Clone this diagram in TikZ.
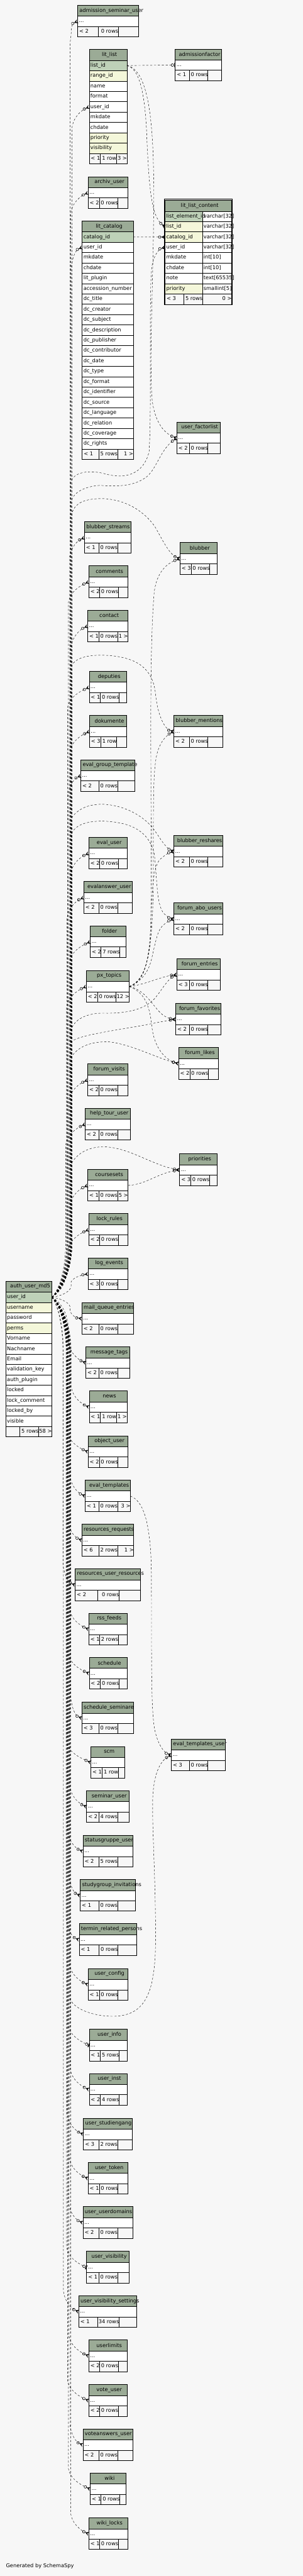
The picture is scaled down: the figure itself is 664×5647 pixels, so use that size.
\documentclass[tikz,border=0pt]{standalone}
\usepackage{fontspec}
\setmainfont{DejaVu Sans}
\usetikzlibrary{arrows.meta}
\definecolor{bg}{HTML}{F7F7F7}
\definecolor{hdc}{HTML}{9BAB96}
\definecolor{pk}{HTML}{BED1B8}
\definecolor{ix}{HTML}{F4F7DA}
\newlength\twd
\newcommand\hfit[2]{\settowidth\twd{#2}\ifdim\twd>\dimexpr#1-8pt\relax\makebox[#1][l]{\hspace{4pt}#2}\else\makebox[#1][c]{\hspace{6pt}#2}\fi}
\newcommand\sv{\vphantom{Agy\_}}
\newcommand\ddd{...}
\def\parsex#1,#2,#3,#4\relax{\def\xA{#1}\def\xa{#2}\def\xb{#3}\def\xB{#4}}
\def\parsef#1/#2/#3\relax{\def\fA{#1}\def\fB{#2}\def\fC{#3}}
\newcommand\tbl[6]{%
  \parsex#2\relax\parsef#6\relax
  \pgfmathsetmacro\tw{\xB-\xA}%
  \node[hd, minimum width=\tw pt] (#1) at (\xA,#3) {\hfit{\tw pt}{#4}};%
  \foreach \rt/\rc/\rn [count=\ri] in {#5} {%
    \pgfmathsetmacro\ry{#3+24+22.67*(\ri-1)}%
    \node[rw, fill=\rc, minimum width=\tw pt] (#1-\rn) at (\xA,\ry) {\makebox[\tw pt][l]{\hspace{2.8pt}\sv\rt}};%
    \pgfmathsetmacro\fy{#3+24+22.67*\ri}\xdef\footy{\fy}%
  }%
  \pgfmathsetmacro\wA{\xa-\xA}\pgfmathsetmacro\wB{\xb-\xa}\pgfmathsetmacro\wC{\xB-\xb}%
  \node[ft, minimum width=\wA pt] (#1-f1) at (\xA,\footy) {\makebox[\wA pt][l]{\hspace{3.5pt}\sv\fA}};%
  \node[ft, minimum width=\wB pt] (#1-f2) at (\xa,\footy) {\makebox[\wB pt][r]{\sv\fB}};%
  \node[ft, minimum width=\wC pt] (#1-f3) at (\xb,\footy) {\makebox[\wC pt][r]{\sv\fC}};%
}
\newcommand\stbl[5]{\tbl{#1}{#2}{#3}{#4}{\ddd/white/r}{#5}}
\newcommand\fan[2]{%
  \pgfmathsetmacro\dd{2844-#1}%
  \pgfmathsetmacro\ss{(\dd>0)*2-1}%
  \pgfmathsetmacro\aa{abs(\dd)}%
  \pgfmathsetmacro\kk{min(120,\aa*0.5)}%
  \pgfmathsetmacro\py{2844-(\ss)*\kk}%
  \pgfmathsetmacro\cxa{113.7+0.6*(#2-113.7)}%
  \pgfmathsetmacro\cya{2844-(\ss)*\kk*0.15}%
  \pgfmathsetmacro\cyb{2844-(\ss)*\kk*0.55}%
}
\newcommand\aedge[4][rel]{%
  \fan{#3}{#4}%
  \pgfmathsetmacro\my{#3+(\ss)*min(45,\aa/3)}%
  \pgfmathsetmacro\cyc{#3+(\ss)*min(20,\aa/6)}%
  \pgfmathsetmacro\cyd{(\ss)*min(7,\aa/20)}%
  \draw[#1] (auth-uid.east) .. controls (\cxa,\cya) and (#4,\cyb) .. (#4,\py) -- (#4,\my) .. controls (#4+4,\cyc) and ([shift={(-16,\cyd)}]#2.west) .. (#2.west);%
}
\newcommand\redge[3]{\fan{#1}{#2}\draw[rel] (auth-uid.east) .. controls (\cxa,\cya) and (#2,\cyb) .. (#2,\py) -- (#2,#1) #3;}
\tikzset{
  hd/.style={draw, line width=0.9pt, fill=hdc, inner sep=0pt, outer sep=0pt, minimum height=24pt, anchor=north west},
  rw/.style={draw, line width=0.9pt, inner sep=0pt, outer sep=0pt, minimum height=22.67pt, anchor=north west},
  ft/.style={rw, fill=bg},
  rel/.style={line width=0.6pt, dash pattern=on 4.5pt off 4pt, -{Circle[open,length=6.5pt,width=6.5pt,line width=0.8pt,sep=0.5pt] Stealth[reversed,length=8pt,width=9pt,inset=3.5pt]}},
  rel1/.style={line width=0.6pt, dash pattern=on 4.5pt off 4pt, -{Circle[open,length=6.5pt,width=6.5pt,line width=0.8pt,sep=1pt] Rectangle[length=2pt,width=9pt]}}
}
\begin{document}
\begin{tikzpicture}[x=1pt, y=-1pt, font=\fontsize{11.4}{13.5}\selectfont]
\useasboundingbox (0,0) rectangle (664,5647);
\fill[bg] (0,0) rectangle (664,5647);
% ---------- tables ----------
\stbl{asu}{170.3,215.3,259.3,303.3}{11.3}{admission\_seminar\_user}{< 2/0 rows/}
\tbl{litlist}{195.7,220,255.3,278.3}{108.3}{lit\_list}{list\_id/pk/listid, range\_id/ix/rangeid, name/white/name, format/white/format, user\_id/white/uid, mkdate/white/mk, chdate/white/ch, priority/ix/prio, visibility/ix/vis}{< 1/1 row/3 >}
\stbl{admf}{384.3,415,456,485.3}{107.3}{admissionfactor}{< 1/0 rows/}
\stbl{archiv}{193.3,217.7,258.7,280.7}{387.3}{archiv\_user}{< 2/0 rows/}
% lit_list_content (detailed)
\draw[line width=2.3pt] (360.5,436.3) rectangle (509.5,668);
\node[hd, minimum width=146pt] (llc) at (362,439) {\hfit{146pt}{lit\_list\_content}};
\foreach \na/\ty/\cc/\nn [count=\i] in {list\_element\_id/varchar[32]/pk/leid, list\_id/varchar[32]/ix/listid, catalog\_id/varchar[32]/ix/catid, user\_id/varchar[32]/white/uid, mkdate/int[10]/white/mk, chdate/int[10]/white/ch, note/text[65535]/white/note, priority/smallint[5]/ix/prio} {
  \pgfmathsetmacro\ry{439+24+22.67*(\i-1)}
  \node[rw, fill=white, minimum width=64pt] (llc-\nn-t) at (444,\ry) {\makebox[64pt][l]{\hspace{2.5pt}\sv\ty}};
  \node[rw, fill=\cc, minimum width=82pt] (llc-\nn) at (362,\ry) {\makebox[82pt][l]{\hspace{2.8pt}\sv\na}};
}
\node[ft, minimum width=41.3pt] (llc-f1) at (362,644.4) {\makebox[41.3pt][l]{\hspace{3.5pt}\sv< 3}};
\node[ft, minimum width=41pt] (llc-f2) at (403.3,644.4) {\makebox[41pt][r]{\sv5 rows}};
\node[ft, minimum width=63.7pt] (llc-f3) at (444.3,644.4) {\makebox[63.7pt][r]{\sv0 >}};
\tbl{litcat}{180.3,216.7,257.7,292.3}{484.3}{lit\_catalog}{catalog\_id/pk/catid, user\_id/white/uid, mkdate/white/mk, chdate/white/ch, lit\_plugin/white/plugin, accession\_number/white/acc, dc\_title/white/title, dc\_creator/white/creator, dc\_subject/white/subject, dc\_description/white/desc, dc\_publisher/white/pub, dc\_contributor/white/contrib, dc\_date/white/date, dc\_type/white/type, dc\_format/white/format, dc\_identifier/white/ident, dc\_source/white/source, dc\_language/white/lang, dc\_relation/white/rel, dc\_coverage/white/cov, dc\_rights/white/rights}{< 1/5 rows/1 >}
\stbl{ufl}{387.7,415,456,482.3}{925}{user\_factorlist}{< 2/0 rows/}
\stbl{bstreams}{185.3,216.7,257.7,287.7}{1143.3}{blubber\_streams}{< 1/0 rows/}
\stbl{blubber}{394.7,419,460,475.7}{1189.3}{blubber}{< 3/0 rows/}
\stbl{comments}{194.7,218.3,259.3,279.7}{1240.3}{comments}{< 2/0 rows/}
\stbl{contact}{192.3,216.7,257.7,280.7}{1337.3}{contact}{< 1/0 rows/1 >}
\stbl{deputies}{195.7,220,261,277.3}{1471.3}{deputies}{< 1/0 rows/}
\stbl{dokumente}{196.3,220.7,256,277.3}{1568.3}{dokumente}{< 3/1 row/}
\stbl{egt}{177.3,216.7,257.7,295.7}{1665.3}{eval\_group\_template}{< 2/0 rows/}
\stbl{bment}{381.3,415,456,488.3}{1568.3}{blubber\_mentions}{< 2/0 rows/}
\stbl{evaluser}{194.7,218.3,259.3,278.3}{1835.3}{eval\_user}{< 2/0 rows/}
\stbl{bresh}{381.3,415,456,488.3}{1831.3}{blubber\_reshares}{< 2/0 rows/}
\stbl{eau}{183.7,216.7,257.7,289.3}{1932.3}{evalanswer\_user}{< 2/0 rows/}
\stbl{fabo}{381.3,415,456,488.3}{1979.3}{forum\_abo\_users}{< 2/0 rows/}
\stbl{folder}{198,221.7,262.7,276.7}{2029.3}{folder}{< 2/7 rows/}
\stbl{fentries}{387.7,415,456,482.3}{2101.3}{forum\_entries}{< 3/0 rows/}
\stbl{pxt}{189.3,213.7,254.7,283.7}{2127.3}{px\_topics}{< 2/0 rows/12 >}
\stbl{ffav}{385.3,415,456,484.3}{2199.3}{forum\_favorites}{< 2/0 rows/}
\stbl{flikes}{391.7,416.3,457,479}{2296.3}{forum\_likes}{< 2/0 rows/}
\stbl{fvisits}{192.3,216.7,257.7,280.7}{2332.3}{forum\_visits}{< 2/0 rows/}
\stbl{htu}{187,216.7,257.7,286}{2429.3}{help\_tour\_user}{< 2/0 rows/}
\stbl{prio}{394,418.3,459.3,476}{2529.3}{priorities}{< 3/0 rows/}
\stbl{csets}{192.3,216.7,257.7,280.7}{2563.3}{coursesets}{< 1/0 rows/5 >}
\stbl{lockr}{194.7,218.3,259.3,279.7}{2660.3}{lock\_rules}{< 2/0 rows/}
\stbl{loge}{193.3,217.7,258.7,279.7}{2757.3}{log\_events}{< 3/0 rows/}
\tbl{auth}{12.7,43.7,84.7,113.7}{2808.3}{auth\_user\_md5}{user\_id/pk/uid, username/ix/uname, password/white/pw, perms/ix/perms, Vorname/white/vn, Nachname/white/nn, Email/white/email, validation\_key/white/vk, auth\_plugin/white/ap, locked/white/locked, lock\_comment/white/lc, locked\_by/white/lb, visible/white/vis}{/5 rows/58 >}
\stbl{mqe}{179.7,216.7,257.7,293.3}{2855.3}{mail\_queue\_entries}{< 2/0 rows/}
\stbl{mtags}{188.3,216.7,257.7,284.3}{2952.3}{message\_tags}{< 2/0 rows/}
\stbl{news}{195.7,220,255.3,278.3}{3049.3}{news}{< 1/1 row/1 >}
\stbl{obju}{193.3,217.7,258.7,280.7}{3147.3}{object\_user}{< 2/0 rows/}
\stbl{evtpl}{187,216.7,257.7,286}{3244.3}{eval\_templates}{< 1/0 rows/3 >}
\stbl{resreq}{179.7,216.7,257.7,293.3}{3341.3}{resources\_requests}{< 6/2 rows/1 >}
\stbl{resur}{165,213.7,261,308.3}{3439.3}{resources\_user\_resources}{< 2/0 rows/}
\stbl{rss}{194.7,218.3,259.3,278.3}{3536.3}{rss\_feeds}{< 1/2 rows/}
\stbl{sched}{195.7,220,261,278.3}{3633.3}{schedule}{< 2/0 rows/}
\stbl{schedsem}{179.7,216.7,257.7,293.3}{3731.3}{schedule\_seminare}{< 3/0 rows/}
\stbl{evtu}{375.7,415,456,494}{3812}{eval\_templates\_user}{< 3/0 rows/}
\stbl{scm}{199.3,224,259.3,273.7}{3828.3}{scm}{< 1/1 row/}
\stbl{semu}{190,216.7,257.7,283}{3925.3}{seminar\_user}{< 2/4 rows/}
\stbl{sgu}{182,216.7,257.7,290.7}{4023.3}{statusgruppe\_user}{< 2/5 rows/}
\stbl{sgi}{176,216.7,257.7,297}{4120}{studygroup\_invitations}{< 1/0 rows/}
\stbl{trp}{173.7,216.7,258.3,300.3}{4217}{termin\_related\_persons}{< 1/0 rows/}
\stbl{ucfg}{193.3,217.7,258.7,280.7}{4315.3}{user\_config}{< 1/0 rows/}
\stbl{uinfo}{195.7,220,261,278.3}{4448.3}{user\_info}{< 1/5 rows/}
\stbl{uinst}{195.7,220,261,278.3}{4545.3}{user\_inst}{< 2/4 rows/}
\stbl{ustud}{183,216.7,257.7,290}{4643.3}{user\_studiengang}{< 3/2 rows/}
\stbl{utok}{193.3,217.7,258.7,280}{4740.3}{user\_token}{< 1/0 rows/}
\stbl{uud}{182,216.7,257.7,290.7}{4837.3}{user\_userdomains}{< 2/0 rows/}
\stbl{uvis}{190,216.7,257.7,283}{4935.3}{user\_visibility}{< 1/0 rows/}
\stbl{uvs}{172.7,213.7,261,300.3}{5032.3}{user\_visibility\_settings}{< 1/34 rows/}
\stbl{ulim}{194.7,218.3,259.3,278.3}{5129.3}{userlimits}{< 2/0 rows/}
\stbl{voteu}{194.7,218.3,259.3,278.3}{5227.3}{vote\_user}{< 2/0 rows/}
\stbl{vau}{182,216.7,257.7,290.7}{5324.3}{voteanswers\_user}{< 2/0 rows/}
\stbl{wiki}{198,221.7,262.7,276.7}{5421}{wiki}{< 1/0 rows/}
\stbl{wikil}{194.7,218.3,259.3,279.7}{5519.3}{wiki\_locks}{< 1/0 rows/}
\node[anchor=base west, inner sep=0pt] (gen) at (13,5629) {Generated by SchemaSpy};
% ---------- edges from auth_user_md5.user_id to left column ----------
\aedge{asu-r}{46.6}{154}
\aedge{litlist-uid}{234.3}{158}
\aedge{archiv-r}{422.6}{155}
\aedge{litcat-uid}{542.3}{156}
\aedge{bstreams-r}{1178.6}{152}
\aedge{comments-r}{1275.6}{150}
\aedge{contact-r}{1372.6}{156}
\aedge{deputies-r}{1506.6}{148}
\aedge{dokumente-r}{1603.6}{153}
\aedge{egt-r}{1700.6}{149}
\aedge{evaluser-r}{1870.6}{155}
\aedge{eau-r}{1967.6}{147}
\aedge{folder-r}{2064.6}{152}
\aedge{pxt-r}{2162.6}{146}
\aedge{fvisits-r}{2367.6}{151}
\aedge{htu-r}{2464.6}{144}
\aedge{csets-r}{2598.6}{153}
\aedge{lockr-r}{2695.6}{149}
\aedge{loge-r}{2792.6}{156}
\aedge{mqe-r}{2890.6}{154}
\aedge{mtags-r}{2987.6}{150}
\aedge{news-r}{3084.6}{156}
\aedge{obju-r}{3182.6}{147}
\aedge{evtpl-r}{3279.6}{153}
\aedge{resreq-r}{3376.6}{148}
\aedge{resur-r}{3474.6}{138}
\aedge{rss-r}{3571.6}{152}
\aedge{sched-r}{3668.6}{149}
\aedge{schedsem-r}{3766.6}{155}
\aedge{scm-r}{3863.6}{146}
\aedge{semu-r}{3960.6}{153}
\aedge{sgu-r}{4058.6}{148}
\aedge{sgi-r}{4155.3}{151}
\aedge{trp-r}{4252.3}{145}
\aedge{ucfg-r}{4350.6}{152}
\aedge[rel1]{uinfo-r}{4483.6}{149}
\aedge{uinst-r}{4580.6}{154}
\aedge{ustud-r}{4678.6}{147}
\aedge{utok-r}{4775.6}{152}
\aedge{uud-r}{4872.6}{150}
\aedge[rel1]{uvis-r}{4970.6}{146}
\aedge{uvs-r}{5067.6}{139}
\aedge{ulim-r}{5164.6}{151}
\aedge{voteu-r}{5262.6}{148}
\aedge{vau-r}{5359.6}{153}
\aedge{wiki-r}{5456.3}{150}
\aedge{wikil-r}{5554.6}{155}
% ---------- other relationships ----------
\draw[rel1] (litlist-listid.east) -- (admf-r.west);
\draw[rel] (litlist-listid.east) .. controls (305,150) and (318,200) .. (322,300) .. controls (327,420) and (333,475) .. (llc-listid.west);
\draw[rel] (litlist-listid.east) .. controls (318,152) and (336,230) .. (337,400) .. controls (338,600) and (327,750) .. (333,870) .. controls (338,925) and (360,950) .. (ufl-r.west);
\draw[rel] (litcat-catid.east) -- (llc-catid.west);
\redge{1060}{155}{.. controls (158,1035) and (195,1028) .. (235,1040) .. controls (275,1050) and (315,1040) .. (327,990) .. controls (333,900) and (326,650) .. (333,585) .. controls (337,560) and (348,546) .. (llc-uid.west)}
\redge{1100}{156}{.. controls (160,1080) and (185,1066) .. (220,1064) .. controls (270,1068) and (300,1062) .. (322,1045) .. controls (345,1025) and (352,985) .. (ufl-r.west)}
\redge{1125}{158}{.. controls (165,1100) and (190,1093) .. (225,1093) .. controls (280,1095) and (320,1125) .. (340,1155) .. controls (355,1180) and (370,1215) .. (blubber-r.west)}
\draw[rel] (pxt-r.east) .. controls (312,2155) and (330,2120) .. (331,2000) .. controls (333,1700) and (326,1450) .. (338,1300) .. controls (343,1255) and (365,1235) .. (blubber-r.west);
\redge{1460}{157}{.. controls (165,1440) and (200,1434) .. (240,1437) .. controls (300,1442) and (335,1465) .. (341,1520) .. controls (345,1565) and (360,1598) .. (bment-r.west)}
\draw[rel] (pxt-r.east) .. controls (315,2152) and (334,2110) .. (336,1950) .. controls (337,1780) and (334,1690) .. (345,1650) .. controls (352,1625) and (365,1612) .. (bment-r.west);
\redge{1795}{156}{.. controls (170,1772) and (195,1763) .. (225,1763) .. controls (275,1765) and (315,1790) .. (335,1815) .. controls (350,1835) and (362,1858) .. (bresh-r.west)}
\draw[rel] (pxt-r.east) .. controls (318,2148) and (331,2100) .. (332,2010) .. controls (333,1940) and (338,1895) .. (352,1883) .. controls (360,1876) and (368,1870) .. (bresh-r.west);
\redge{1828}{157}{.. controls (165,1808) and (190,1800) .. (225,1800) .. controls (285,1802) and (325,1820) .. (338,1870) .. controls (345,1920) and (342,1985) .. (360,2003) .. controls (366,2009) and (372,2012) .. (fabo-r.west)}
\draw[rel] (pxt-r.east) .. controls (312,2150) and (326,2130) .. (333,2100) .. controls (342,2060) and (346,2040) .. (356,2030) .. controls (363,2023) and (372,2018) .. (fabo-r.west);
\draw[rel] (pxt-r.east) .. controls (320,2158) and (355,2140) .. (fentries-r.west);
\redge{2258}{156}{.. controls (162,2235) and (190,2220) .. (230,2221) .. controls (290,2222) and (322,2208) .. (340,2188) .. controls (355,2170) and (368,2146) .. (fentries-r.west)}
\draw[rel] (pxt-r.east) .. controls (312,2168) and (330,2195) .. (345,2213) .. controls (356,2226) and (366,2232) .. (ffav-r.west);
\redge{2285}{155}{.. controls (165,2272) and (230,2262) .. (290,2252) .. controls (335,2244) and (360,2238) .. (ffav-r.west)}
\draw[rel] (pxt-r.east) .. controls (315,2175) and (328,2200) .. (333,2250) .. controls (338,2295) and (360,2322) .. (flikes-r.west);
\redge{2320}{155}{.. controls (168,2295) and (200,2282) .. (240,2284) .. controls (290,2290) and (345,2320) .. (flikes-r.west)}
\draw[rel] (csets-r.east) .. controls (320,2597) and (345,2572) .. (prio-r.west);
\redge{2552}{156}{.. controls (170,2525) and (200,2513) .. (230,2514) .. controls (285,2516) and (335,2555) .. (prio-r.west)}
\draw[rel] (evtpl-r.east) .. controls (315,3290) and (331,3340) .. (332,3450) .. controls (333,3600) and (330,3740) .. (339,3790) .. controls (346,3825) and (360,3842) .. (evtu-r.west);
\redge{4378}{152}{.. controls (158,4402) and (200,4420) .. (250,4420) .. controls (315,4418) and (340,4375) .. (341,4260) .. controls (342,4120) and (333,4010) .. (335,3940) .. controls (338,3880) and (355,3858) .. (evtu-r.west)}
\end{tikzpicture}
\end{document}
